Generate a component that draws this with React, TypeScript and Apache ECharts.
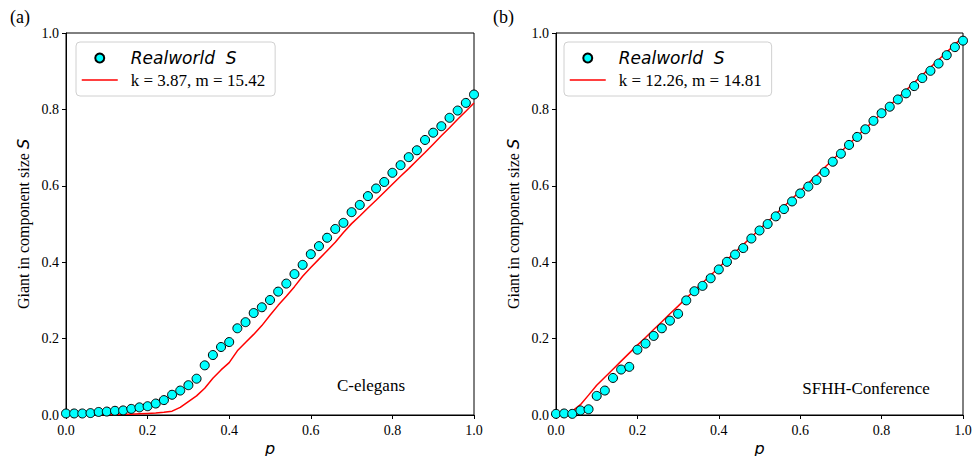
import React, { useEffect, useRef } from "react";
import * as echarts from "echarts";

const pValues = [
  0.0, 0.02, 0.04, 0.06, 0.08, 0.1, 0.12, 0.14, 0.16, 0.18,
  0.2, 0.22, 0.24, 0.26, 0.28, 0.3, 0.32, 0.34, 0.36, 0.38,
  0.4, 0.42, 0.44, 0.46, 0.48, 0.5, 0.52, 0.54, 0.56, 0.58,
  0.6, 0.62, 0.64, 0.66, 0.68, 0.7, 0.72, 0.74, 0.76, 0.78,
  0.8, 0.82, 0.84, 0.86, 0.88, 0.9, 0.92, 0.94, 0.96, 0.98, 1.0,
];

const celegansS = [
  0.004, 0.004, 0.004, 0.005, 0.008, 0.009, 0.011, 0.012, 0.016, 0.02,
  0.023, 0.03, 0.039, 0.053, 0.064, 0.078, 0.095, 0.13, 0.157, 0.178,
  0.191, 0.227, 0.243, 0.267, 0.282, 0.301, 0.323, 0.344, 0.369, 0.393,
  0.421, 0.442, 0.464, 0.487, 0.503, 0.531, 0.55, 0.573, 0.593, 0.61,
  0.634, 0.654, 0.675, 0.693, 0.72, 0.739, 0.756, 0.778, 0.797, 0.817, 0.839,
];

const celegansFit = [
  0, 0, 0, 0, 0.001, 0.001, 0.001, 0.002, 0.002, 0.003,
  0.004, 0.005, 0.007, 0.01, 0.02, 0.035, 0.05, 0.07, 0.096, 0.118,
  0.137, 0.168, 0.19, 0.211, 0.234, 0.261, 0.287, 0.311, 0.336, 0.363,
  0.386, 0.408, 0.43, 0.452, 0.478, 0.501, 0.521, 0.542, 0.562, 0.583,
  0.604, 0.625, 0.645, 0.666, 0.687, 0.709, 0.731, 0.752, 0.774, 0.795, 0.817,
];

const sfhhS = [
  0.003, 0.004, 0.003, 0.012, 0.015, 0.05, 0.064, 0.097, 0.119, 0.126,
  0.171, 0.187, 0.207, 0.227, 0.247, 0.265, 0.3, 0.324, 0.338, 0.358,
  0.381, 0.401, 0.42, 0.437, 0.462, 0.483, 0.5, 0.52, 0.539, 0.559,
  0.58, 0.598, 0.615, 0.636, 0.663, 0.684, 0.707, 0.728, 0.748, 0.77,
  0.79, 0.807, 0.826, 0.842, 0.861, 0.882, 0.901, 0.92, 0.942, 0.963, 0.98,
];

const sfhhFit = [
  0, 0.004, 0.01, 0.027, 0.052, 0.078, 0.099, 0.12, 0.141, 0.162,
  0.183, 0.203, 0.224, 0.244, 0.265, 0.285, 0.306, 0.326, 0.346, 0.366,
  0.386, 0.406, 0.426, 0.446, 0.466, 0.486, 0.506, 0.526, 0.546, 0.566,
  0.586, 0.607, 0.627, 0.648, 0.668, 0.689, 0.709, 0.73, 0.75, 0.77,
  0.79, 0.81, 0.83, 0.85, 0.87, 0.89, 0.91, 0.93, 0.95, 0.97, 0.991,
];

const tickValues = ["0.0", "0.2", "0.4", "0.6", "0.8", "1.0"];
const scatterName = "Realworld  S";
const fitNames = ["k = 3.87, m = 15.42", "k = 12.26, m = 14.81"];
const panelTitles = ["(a)", "(b)"];
const networkNames = ["C-elegans", "SFHH-Conference"];

const SERIF = "Liberation Serif";
const SANS = "DejaVu Sans";

export default function App() {
  const ref = useRef<HTMLDivElement>(null);

  useEffect(() => {
    if (!ref.current) return;
    const chart = echarts.init(ref.current, undefined, { renderer: "svg" });

    const grids = [
      { left: 66, top: 33, width: 408, height: 382 },
      { left: 556, top: 33, width: 407, height: 382 },
    ];

    const makeX = (gi: number) => ({
      type: "value",
      gridIndex: gi,
      min: 0,
      max: 1,
      interval: 0.2,
      name: "p",
      nameLocation: "middle",
      nameGap: 25,
      nameMoveOverlap: false,
      nameTextStyle: { fontFamily: SANS, fontStyle: "italic", fontSize: 16, color: "#000" },
      axisLine: { show: true, lineStyle: { color: "#000", width: 1 } },
      axisTick: { show: true, inside: false, length: 4, lineStyle: { color: "#000" } },
      axisLabel: {
        margin: 8,
        fontFamily: SERIF,
        fontSize: 14,
        color: "#000",
        formatter: (v: number) => tickValues[Math.round(v * 5)],
      },
      splitLine: { show: false },
    });

    const makeY = (gi: number) => ({
      type: "value",
      gridIndex: gi,
      min: 0,
      max: 1,
      interval: 0.2,
      name: "{a|Giant in component size }{b|S}",
      nameLocation: "middle",
      nameGap: 35,
      nameMoveOverlap: false,
      nameTextStyle: {
        rich: {
          a: { fontFamily: SERIF, fontSize: 16, color: "#000" },
          b: { fontFamily: SANS, fontStyle: "italic", fontSize: 16, color: "#000" },
        },
      },
      axisLine: { show: true, lineStyle: { color: "#000", width: 1 } },
      axisTick: { show: true, inside: false, length: 4, lineStyle: { color: "#000" } },
      axisLabel: {
        margin: 7,
        fontFamily: SERIF,
        fontSize: 14,
        color: "#000",
        formatter: (v: number) => tickValues[Math.round(v * 5)],
      },
      splitLine: { show: false },
    });

    const datasets = [
      { s: celegansS, f: celegansFit },
      { s: sfhhS, f: sfhhFit },
    ];

    const series: any[] = [];
    datasets.forEach((d, gi) => {
      series.push({
        type: "line",
        name: fitNames[gi],
        xAxisIndex: gi,
        yAxisIndex: gi,
        data: pValues.map((p, i) => [p, d.f[i]]),
        symbol: "none",
        lineStyle: { color: "#ff0000", width: 1.5 },
        itemStyle: { color: "#ff0000" },
        z: 2,
      });
      series.push({
        type: "scatter",
        name: scatterName,
        xAxisIndex: gi,
        yAxisIndex: gi,
        data: pValues.map((p, i) => [p, d.s[i]]),
        symbol: "circle",
        symbolSize: 9,
        itemStyle: { color: "#00ffff", borderColor: "#000", borderWidth: 1, opacity: 1 },
        z: 3,
      });
    });

    const legendLefts = [76, 564];
    const legends = fitNames.map((fn, gi) => ({
      show: true,
      orient: "vertical",
      left: legendLefts[gi],
      top: 42,
      padding: [6, 10, 6, 5],
      itemGap: 2,
      itemWidth: 36,
      itemHeight: 9,
      backgroundColor: "#fff",
      borderColor: "#d0d0d0",
      borderWidth: 1,
      borderRadius: 4,
      selectedMode: false,
      data: [
        {
          name: scatterName,
          icon: "circle",
          textStyle: { fontFamily: SANS, fontStyle: "italic", fontSize: 17, color: "#000", lineHeight: 20, padding: [0, 0, 0, 8] },
        },
        {
          name: fn,
          itemStyle: { color: "rgba(0,0,0,0)", borderColor: "rgba(0,0,0,0)", borderWidth: 0, opacity: 0 },
          lineStyle: { color: "#ff0000", width: 1.5, opacity: 1 },
          textStyle: { fontFamily: SERIF, fontSize: 17, color: "#000", lineHeight: 20, padding: [0, 0, 0, 8] },
        },
      ],
    }));

    chart.setOption({
      animation: false,
      backgroundColor: "#fff",
      grid: grids.map((g) => ({
        ...g,
        show: true,
        borderColor: "#000",
        borderWidth: 1,
        backgroundColor: "transparent",
        containLabel: false,
        outerBoundsMode: "none",
      })),
      xAxis: [makeX(0), makeX(1)],
      yAxis: [makeY(0), makeY(1)],
      legend: legends,
      series,
      graphic: [
        { type: "text", left: 10, top: 8, style: { text: panelTitles[0], font: `18px ${SERIF}`, fill: "#000" } },
        { type: "text", left: 493, top: 8, style: { text: panelTitles[1], font: `18px ${SERIF}`, fill: "#000" } },
        {
          type: "text",
          x: 371,
          y: 385,
          style: { text: networkNames[0], font: `17px ${SERIF}`, fill: "#000", align: "center", verticalAlign: "middle" },
        },
        {
          type: "text",
          x: 866,
          y: 388,
          style: { text: networkNames[1], font: `17px ${SERIF}`, fill: "#000", align: "center", verticalAlign: "middle" },
        },
      ],
    });

    return () => chart.dispose();
  }, []);

  return (
    <div
      ref={ref}
      style={{ position: "fixed", left: 0, top: 0, width: 973, height: 456, background: "#fff" }}
    />
  );
}
